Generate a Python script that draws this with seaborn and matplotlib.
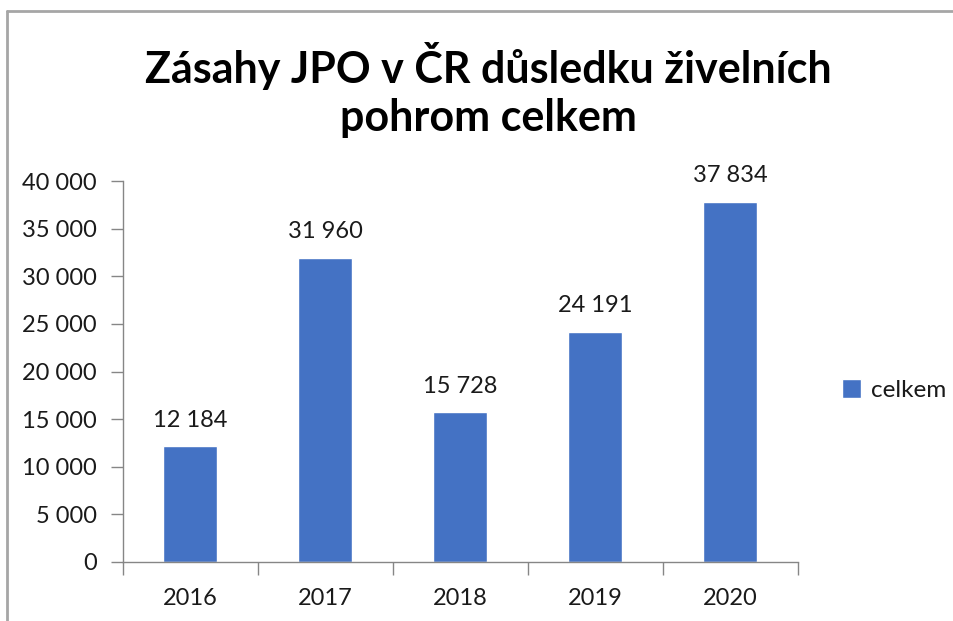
import matplotlib
matplotlib.use("Agg")
import matplotlib.pyplot as plt
from matplotlib.lines import Line2D
from matplotlib.ticker import FuncFormatter, FixedLocator
import seaborn as sns
import pandas as pd

years = ["2016", "2017", "2018", "2019", "2020"]
counts = [12184, 31960, 15728, 24191, 37834]
series_name = "celkem"
title = "Zásahy JPO v ČR důsledku živelních\npohrom celkem"
y_ticks = [0, 5000, 10000, 15000, 20000, 25000, 30000, 35000, 40000]

BAR = "#4472C4"
AXIS = "#868686"
TEXT = "#1a1a1a"

sns.set_theme(style="white")
plt.rcParams["font.family"] = ["Lato", "DejaVu Sans"]


def fmt(v):
    return f"{int(v):,}".replace(",", " ")


df = pd.DataFrame({"rok": years, "počet": counts, "řada": series_name})

W, H = 954, 621
fig = plt.figure(figsize=(W / 100, H / 100), dpi=100)
ax = fig.add_axes([123 / W, (H - 562) / H, 675 / W, (562 - 181) / H])

sns.barplot(data=df, x="rok", y="počet", color=BAR, width=0.4,
            label=series_name, ax=ax, saturation=1)

ax.set_xlim(-0.5, len(years) - 0.5)
ax.set_ylim(0, 40000)
ax.yaxis.set_major_locator(FixedLocator(y_ticks))
ax.yaxis.set_major_formatter(FuncFormatter(lambda v, p: fmt(v)))
ax.set_xlabel("")
ax.set_ylabel("")

for s in ["top", "right"]:
    ax.spines[s].set_visible(False)
for s in ["left", "bottom"]:
    ax.spines[s].set_color(AXIS)
    ax.spines[s].set_linewidth(1.0)

LBL = 17
ax.tick_params(axis="y", which="major", length=9, width=1, color=AXIS,
               direction="out", left=True, labelsize=LBL, labelcolor=TEXT, pad=10)
ax.tick_params(axis="x", which="major", length=0, labelsize=LBL,
               labelcolor=TEXT, pad=19)
ax.set_xticks([i - 0.5 for i in range(len(years) + 1)], minor=True)
ax.tick_params(axis="x", which="minor", length=9, width=1, color=AXIS,
               direction="out", bottom=True)

for i, v in enumerate(counts):
    ax.annotate(fmt(v), (i, v), xytext=(0, 11), textcoords="offset points",
                ha="center", va="bottom", fontsize=LBL, color=TEXT)

fig.text(488 / W, 1 - 42 / H, title, ha="center", va="top",
         fontsize=31, fontweight="bold", color="#000000", linespacing=1.25)

ax.legend(loc="center left", bbox_to_anchor=(842 / W, 1 - 390 / H),
          bbox_transform=fig.transFigure, frameon=False, fontsize=17.5,
          borderpad=0, borderaxespad=0,
          handlelength=0.8, handleheight=0.8, handletextpad=0.4,
          labelcolor=TEXT)

# chart frame (top and left edges)
frame_kw = dict(transform=fig.transFigure, color="#A6A6A6", linewidth=2.0)
fig.lines.append(Line2D([7.5 / W, 1.0], [1 - 10.5 / H] * 2, **frame_kw))
fig.lines.append(Line2D([7.5 / W] * 2, [0.0, 1 - 10.5 / H], **frame_kw))

fig.savefig("out.png", dpi=100)
